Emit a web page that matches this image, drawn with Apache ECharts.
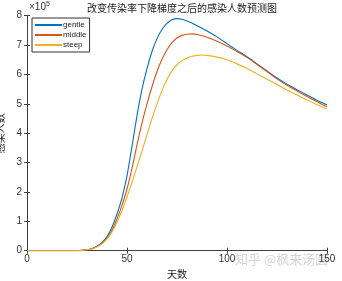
<!DOCTYPE html>
<html><head><meta charset="utf-8">
<script src="https://cdn.jsdelivr.net/npm/echarts@6/dist/echarts.min.js"></script>
<style>html,body{margin:0;padding:0;background:#fff}#c{width:342px;height:281px}</style>
</head><body><div id="c"></div>
<script>
// values in units of 10^5
var days   = [0,10,20,25,27.5,30,32.5,35,37.5,40,42.5,45,47.5,50,52.5,55,57.5,60,62.5,65,67.5,70,72.5,75,77.5,80,82.5,85,87.5,90,95,100,105,110,115,120,125,130,135,140,145,150];
var gentle = [0,0,0,0,0.01,0.03,0.07,0.15,0.28,0.48,0.8,1.25,1.8,2.55,3.55,4.6,5.5,6.2,6.78,7.22,7.53,7.74,7.86,7.9,7.88,7.82,7.75,7.66,7.57,7.48,7.28,7.05,6.82,6.6,6.36,6.12,5.88,5.67,5.48,5.30,5.12,4.96];
var middle = [0,0,0,0,0.01,0.03,0.065,0.14,0.25,0.43,0.7,1.08,1.55,2.1,2.8,3.6,4.35,5.0,5.58,6.1,6.52,6.84,7.08,7.24,7.33,7.37,7.38,7.36,7.32,7.27,7.13,6.97,6.78,6.58,6.34,6.1,5.85,5.63,5.44,5.25,5.07,4.9];
var steep  = [0,0,0,0,0.01,0.03,0.06,0.13,0.23,0.4,0.64,0.97,1.37,1.83,2.33,2.86,3.4,3.95,4.5,5.0,5.45,5.83,6.12,6.33,6.47,6.56,6.62,6.65,6.66,6.65,6.59,6.5,6.36,6.2,6.02,5.84,5.66,5.47,5.3,5.13,4.97,4.82];
var seriesNames = ['gentle','middle','steep'];
var xTicks = [0,50,100,150];
var yTicks = [0,1,2,3,4,5,6,7,8];

function pairs(v){ return days.map(function(d,i){ return [d, v[i]]; }); }
var colors = ['#0072BD','#D95319','#EDB120'];
var font = 'Liberation Sans, Arial, sans-serif';
var axisCol = '#404040';
var chart = echarts.init(document.getElementById('c'), null, {renderer:'canvas'});
var L = 27, R = 327, T = 15.7, B = 250.7;
chart.setOption({
  animation:false,
  backgroundColor:'#fff',
  title:{text:'改变传染率下降梯度之后的感染人数预测图', left:177, top:-2, textAlign:'center',
    textStyle:{fontSize:10, fontWeight:'normal', color:'#222', fontFamily:'Noto Sans CJK SC'}},
  grid:{left:L, right:342-R, top:T, bottom:281-B, outerBoundsMode:'none', containLabel:false},
  legend:{show:true, left:32, top:18, orient:'vertical', itemWidth:27, itemHeight:2, itemGap:2,
    icon:'rect', borderColor:'#333', borderWidth:1, padding:[3,3,3,3], borderRadius:0,
    backgroundColor:'#fff', data:seriesNames,
    textStyle:{fontSize:8, color:'#222', fontFamily:font, padding:[0,0,0,-4]}},
  xAxis:[{type:'value', min:xTicks[0], max:xTicks[xTicks.length-1], interval:50, position:'bottom',
    axisLine:{lineStyle:{color:axisCol, width:1}}, axisTick:{inside:true, length:3, lineStyle:{color:axisCol}},
    axisLabel:{fontSize:10, color:'#333', fontFamily:font, margin:4}, splitLine:{show:false},
    name:'天数', nameLocation:'middle', nameGap:16, nameTextStyle:{fontSize:10, color:'#222', fontFamily:'Noto Sans CJK SC'}},
   {type:'value', min:0, max:150, interval:50, position:'top',
    axisLine:{lineStyle:{color:axisCol, width:1}}, axisTick:{inside:true, length:3, lineStyle:{color:axisCol}},
    axisLabel:{show:false}, splitLine:{show:false}}],
  yAxis:[{type:'value', min:yTicks[0], max:yTicks[yTicks.length-1], interval:1, position:'left',
    axisLine:{show:true, lineStyle:{color:axisCol, width:1}}, axisTick:{show:true, inside:true, length:3, lineStyle:{color:axisCol}},
    axisLabel:{fontSize:10, color:'#333', fontFamily:font, margin:5}, splitLine:{show:false},
    name:'感染人数', nameLocation:'middle', nameGap:19, nameRotate:90,
    nameTextStyle:{fontSize:10, color:'#222', fontFamily:'Noto Sans CJK SC'}},
   {type:'value', min:0, max:8, interval:1, position:'right',
    axisLine:{show:true, lineStyle:{color:axisCol, width:1}}, axisTick:{show:true, inside:true, length:3, lineStyle:{color:axisCol}},
    axisLabel:{show:false}, splitLine:{show:false}}],
  series:[gentle,middle,steep].map(function(v,i){
    return {name:seriesNames[i], type:'line', xAxisIndex:0, yAxisIndex:0, data:pairs(v), showSymbol:false,
      smooth:0.2, lineStyle:{width:1.1, color:colors[i]}, itemStyle:{color:colors[i]}};
  }),
  graphic:[
    {type:'text', left:29, top:1, style:{text:'{a|×10}{b|5}', rich:{a:{fontSize:10, fill:'#333', fontFamily:font}, b:{fontSize:7, fill:'#333', verticalAlign:'top', padding:[0,0,5,0], fontFamily:font}}}},
    {type:'text', left:235, top:253, style:{text:'知乎 @枫来汤圆', fontSize:13, fill:'rgba(160,160,160,0.45)', fontFamily:'Noto Sans CJK SC'}}
  ]
});
</script></body></html>
